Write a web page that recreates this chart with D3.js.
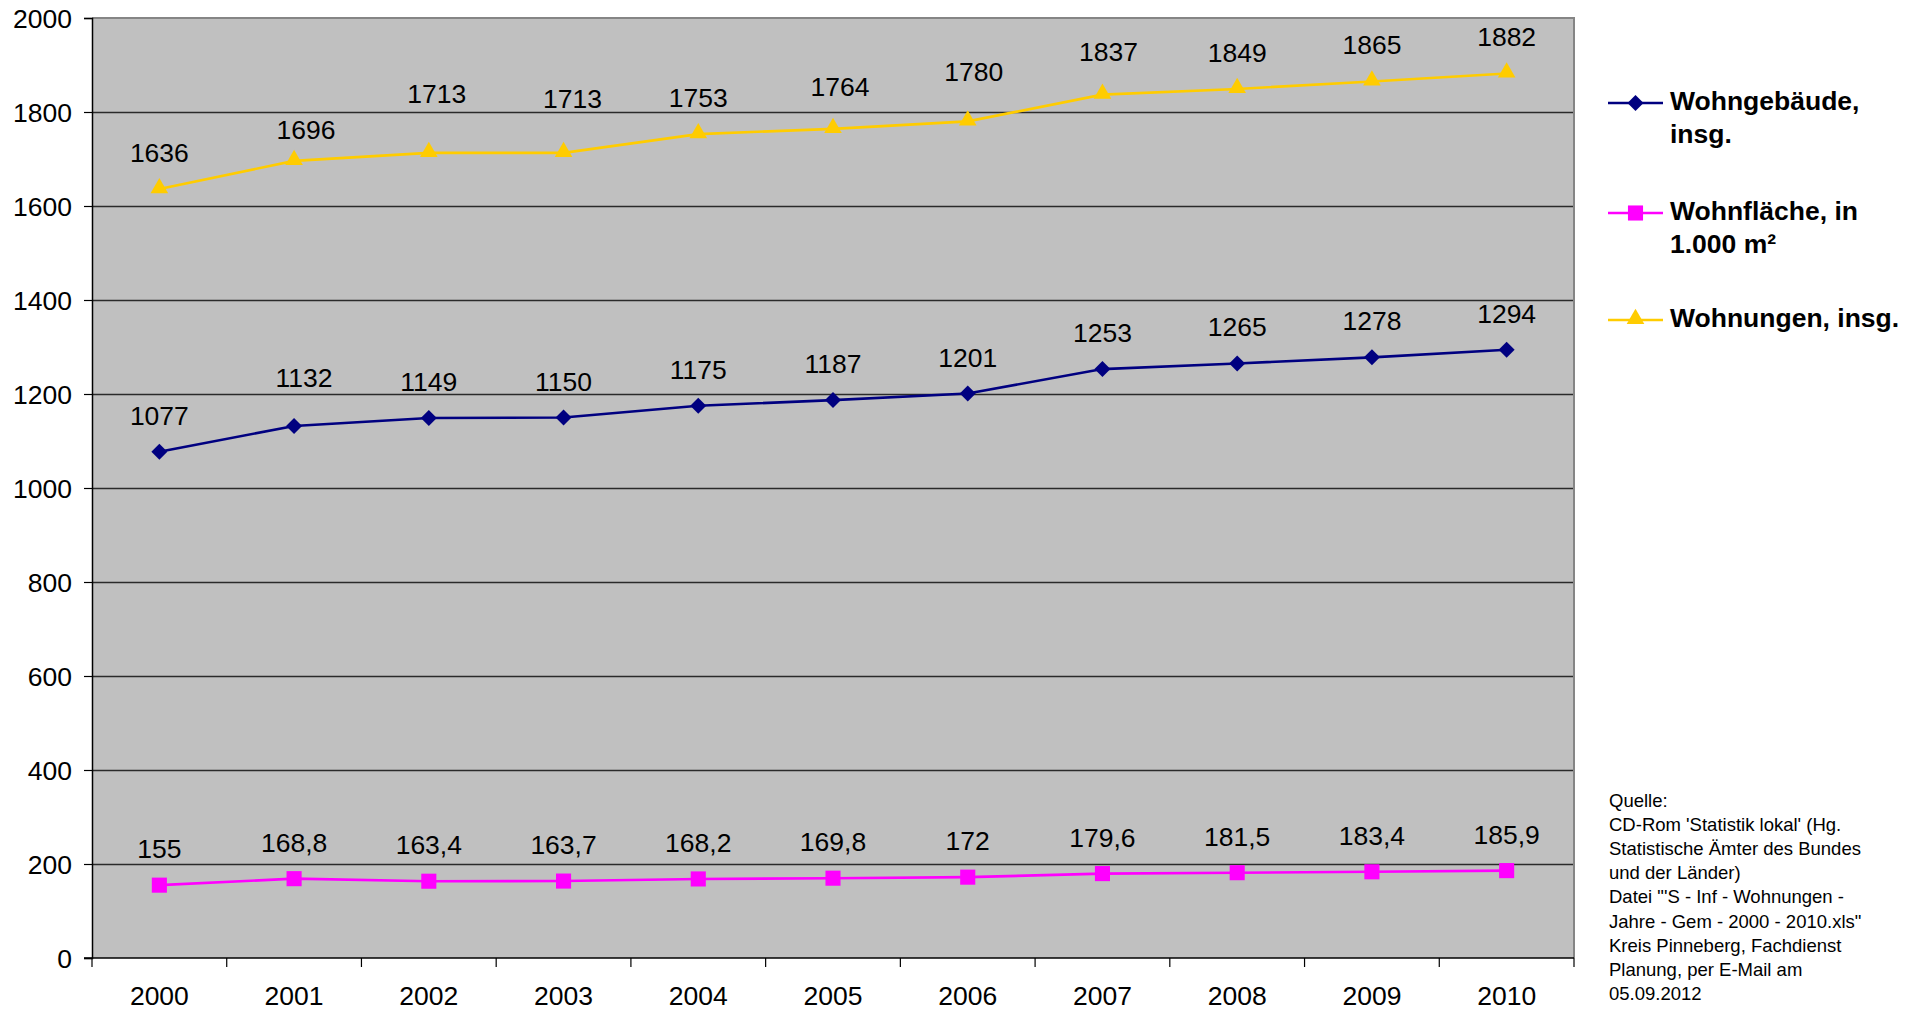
<!DOCTYPE html>
<html lang="de">
<head>
<meta charset="utf-8">
<title>Wohngebäude, Wohnfläche und Wohnungen 2000–2010</title>
<script src="https://cdn.jsdelivr.net/npm/d3@7"></script>
<style>
  html, body { margin: 0; padding: 0; background: #ffffff; }
  svg { display: block; font-family: "Liberation Sans", Arial, Helvetica, sans-serif; }
</style>
</head>
<body>
<svg id="chart" width="1919" height="1010"></svg>
<script>
// ---- data ----
const years = ["2000","2001","2002","2003","2004","2005","2006","2007","2008","2009","2010"];
const wohngebaeude = [1077, 1132, 1149, 1150, 1175, 1187, 1201, 1253, 1265, 1278, 1294];
const wohnflaeche  = [155, 168.8, 163.4, 163.7, 168.2, 169.8, 172, 179.6, 181.5, 183.4, 185.9];
const wohnungen    = [1636, 1696, 1713, 1713, 1753, 1764, 1780, 1837, 1849, 1865, 1882];
const yTicks = [0, 200, 400, 600, 800, 1000, 1200, 1400, 1600, 1800, 2000];
const legendLabels = [["Wohngebäude,", "insg."], ["Wohnfläche, in", "1.000 m²"], ["Wohnungen, insg."]];
const sourceLines = [
  "Quelle:",
  "CD-Rom 'Statistik lokal' (Hg.",
  "Statistische Ämter des Bundes",
  "und der Länder)",
  "Datei \"'S - Inf - Wohnungen -",
  "Jahre - Gem - 2000 - 2010.xls\"",
  "Kreis Pinneberg, Fachdienst",
  "Planung, per E-Mail am",
  "05.09.2012"
];

// ---- layout ----
const plot = { left: 92, right: 1574, top: 18, bottom: 958 };
const FONT = 26.5;

// manual placement tweaks for some value labels [dx, dy] (by index)
const labelNudge = {
  wohngebaeude: { 1: [10, -12] },
  wohnflaeche: {},
  wohnungen: { 1: [12, 5], 2: [8, -23], 3: [9, -18], 5: [7, -6], 6: [6, -13], 7: [6, -7] }
};

// diamond marker, as wide as it is tall
const diamond = {
  draw(ctx, size) {
    const r = Math.sqrt(size) / 2;
    ctx.moveTo(0, -r); ctx.lineTo(r, 0); ctx.lineTo(0, r); ctx.lineTo(-r, 0); ctx.closePath();
  }
};

const series = [
  { key: "wohngebaeude", values: wohngebaeude, color: "#000080", symbol: diamond,           size: 256, dy: 0 },
  { key: "wohnflaeche",  values: wohnflaeche,  color: "#FF00FF", symbol: d3.symbolSquare,   size: 228, dy: 0 },
  { key: "wohnungen",    values: wohnungen,    color: "#FFCC00", symbol: d3.symbolTriangle, size: 135, dy: -1 }
];
series.forEach((s, i) => { s.legend = legendLabels[i]; });

const svg = d3.select("#chart");

const x = d3.scaleBand().domain(years).range([plot.left, plot.right]).padding(0);
const y = d3.scaleLinear().domain([0, 2000]).range([plot.bottom, plot.top]);
const cx = d => x(d) + x.bandwidth() / 2;

const fmt = v => String(v).replace(".", ",");

// plot background
svg.append("rect")
  .attr("x", plot.left).attr("y", plot.top)
  .attr("width", plot.right - plot.left).attr("height", plot.bottom - plot.top)
  .attr("fill", "#C0C0C0");

// horizontal gridlines
const grid = svg.append("g")
  .attr("transform", `translate(${plot.left},0)`)
  .call(d3.axisLeft(y).tickValues(yTicks.filter(t => t > 0 && t < 2000)).tickSize(-(plot.right - plot.left)).tickFormat(""));
grid.select(".domain").remove();
grid.selectAll(".tick line").attr("stroke", "#2a2a2a").attr("stroke-width", 1.3);

// top and right frame
svg.append("path")
  .attr("d", `M${plot.left},${plot.top}H${plot.right}V${plot.bottom}`)
  .attr("fill", "none").attr("stroke", "#858585").attr("stroke-width", 2);

// y axis
const yAxis = svg.append("g")
  .attr("transform", `translate(${plot.left},0)`)
  .call(d3.axisLeft(y).tickValues(yTicks).tickSize(8).tickPadding(12).tickFormat(d3.format("d")));
yAxis.select(".domain").attr("stroke", "#000").attr("stroke-width", 1.5);
yAxis.selectAll(".tick line").attr("stroke", "#000").attr("stroke-width", 1.2);
yAxis.selectAll(".tick text").attr("fill", "#000").attr("font-size", FONT).attr("font-family", null).attr("dy", "0.36em");

// x axis: labels at category centres, ticks at category boundaries
const xAxis = svg.append("g")
  .attr("transform", `translate(0,${plot.bottom})`)
  .call(d3.axisBottom(x).tickSize(0).tickPadding(28));
xAxis.select(".domain").remove();
xAxis.selectAll(".tick text").attr("fill", "#000").attr("font-size", FONT).attr("font-family", null);

svg.append("line")
  .attr("x1", plot.left - 8).attr("x2", plot.right)
  .attr("y1", plot.bottom).attr("y2", plot.bottom)
  .attr("stroke", "#000").attr("stroke-width", 1.5);

const bounds = years.map(d => x(d)).concat([plot.right]);
svg.append("g").selectAll("line").data(bounds).join("line")
  .attr("x1", d => d).attr("x2", d => d)
  .attr("y1", plot.bottom).attr("y2", plot.bottom + 9)
  .attr("stroke", "#000").attr("stroke-width", 1.2);

// series lines, markers and value labels
const line = d3.line().x((v, i) => cx(years[i])).y(v => y(v));

series.forEach(s => {
  const g = svg.append("g");
  g.append("path")
    .attr("d", line(s.values))
    .attr("fill", "none").attr("stroke", s.color).attr("stroke-width", 2.6);

  g.selectAll("path.m").data(s.values).join("path")
    .attr("class", "m")
    .attr("d", d3.symbol().type(s.symbol).size(s.size))
    .attr("transform", (v, i) => `translate(${cx(years[i])},${y(v) + s.dy})`)
    .attr("fill", s.color);

  g.selectAll("text").data(s.values).join("text")
    .attr("x", (v, i) => cx(years[i]) + ((labelNudge[s.key][i] || [0, 0])[0]))
    .attr("y", (v, i) => y(v) - 27 + ((labelNudge[s.key][i] || [0, 0])[1]))
    .attr("text-anchor", "middle")
    .attr("font-size", FONT)
    .attr("fill", "#000")
    .text(fmt);
});

// legend
const legendRows = [103, 213, 320];
series.forEach((s, i) => {
  const ly = legendRows[i];
  const g = svg.append("g");
  g.append("line")
    .attr("x1", 1608).attr("x2", 1663).attr("y1", ly).attr("y2", ly)
    .attr("stroke", s.color).attr("stroke-width", 2.6);
  g.append("path")
    .attr("d", d3.symbol().type(s.symbol).size(s.size))
    .attr("transform", `translate(1635.5,${ly + s.dy})`)
    .attr("fill", s.color);
  const t = g.append("text")
    .attr("x", 1670).attr("y", ly + 7)
    .attr("font-size", FONT).attr("font-weight", "bold").attr("fill", "#000");
  s.legend.forEach((ln, j) => {
    t.append("tspan").attr("x", 1670).attr("dy", j === 0 ? 0 : 33).text(ln);
  });
});

// source note
svg.append("g").selectAll("text").data(sourceLines).join("text")
  .attr("x", 1609)
  .attr("y", (d, i) => 807 + i * 24.1)
  .attr("font-size", 18.5)
  .attr("fill", "#000")
  .text(d => d);
</script>
</body>
</html>
